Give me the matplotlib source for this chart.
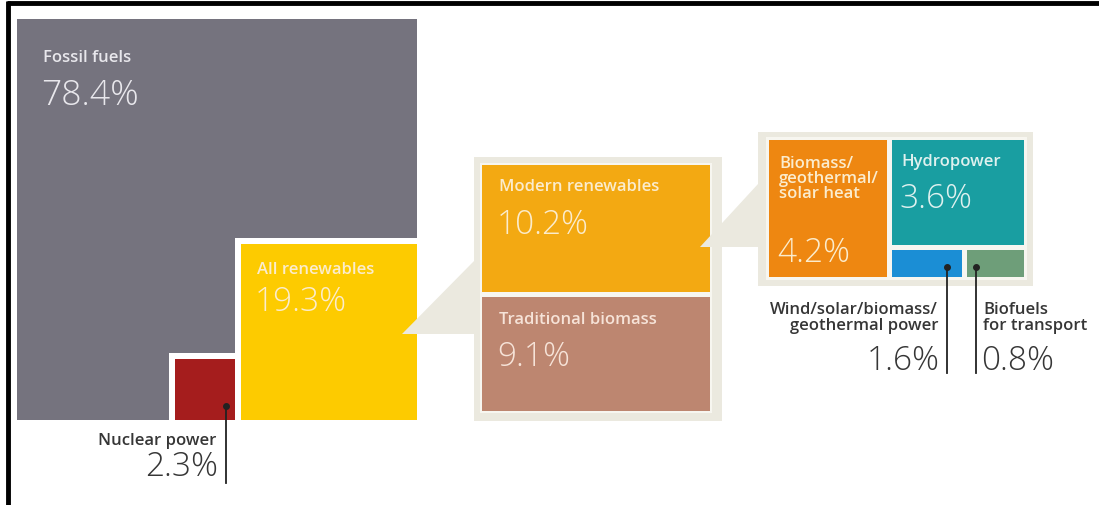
import numpy as np
import matplotlib
matplotlib.use('Agg')
import matplotlib.pyplot as plt
from matplotlib.patches import Rectangle, Polygon

# Share of total final energy consumption (%)
top_labels = ['Fossil fuels', 'All renewables', 'Nuclear power']
top_values = [78.4, 19.3, 2.3]

renew_labels = ['Modern renewables', 'Traditional biomass']
renew_values = [10.2, 9.1]

modern_labels = ['Biomass/\ngeothermal/\nsolar heat', 'Hydropower',
                 'Wind/solar/biomass/\ngeothermal power', 'Biofuels\nfor transport']
modern_values = [4.2, 3.6, 1.6, 0.8]

colors = {
    'fossil': '#75737e', 'renew': '#fdcb00', 'nuclear': '#a51d1d',
    'modern': '#f3a912', 'trad': '#bd8670',
    'heat': '#ee8711', 'hydro': '#199ea1', 'power': '#1b8ed5', 'bio': '#6e9e79',
    'panel': '#ebe9df', 'inner': '#f7f6f0',
}
FONT = 'Open Sans'
NUMFONT = 'Open Sans'
DARK = '#363636'
CREAM = '#fbeccd'
NSIZE = 12
VSIZE = 24

fig = plt.figure(figsize=(10.99, 5.06), dpi=100)
ax = fig.add_axes([0, 0, 1, 1])
ax.set_xlim(0, 1099)
ax.set_ylim(506, 0)
ax.axis('off')


def box(x, y, w, h, color, z=1):
    ax.add_patch(Rectangle((x, y), w, h, facecolor=color, edgecolor='none', zorder=z))


def name(x, y, text, color, ha='left', ls=0.95):
    ax.text(x, y, text, color=color, fontsize=NSIZE, fontweight='semibold', family=FONT,
            ha=ha, va='center', zorder=5, linespacing=ls)


def number(x, y, value, color, size=VSIZE, ha='left'):
    ax.text(x, y, f'{value}%', color=color, fontsize=size, fontweight='light',
            family=NUMFONT, ha=ha, va='center', zorder=5)


def label(x, y, text, value, color, vsize=VSIZE, gap=34):
    name(x, y, text, color)
    number(x - 2, y + gap, value, color, vsize)


# --- left block: areas proportional to share ---
x0, y0, S, pad = 17, 20, 400, 6
box(x0, y0, S, S + 1, colors['fossil'])
side_r = S * np.sqrt(top_values[1] / 100)
side_n = S * np.sqrt(top_values[2] / 100)
rx, ry = x0 + S - side_r, y0 + S + 1 - side_r
box(rx - pad, ry - pad, side_r + pad, side_r + pad, 'white', 2)
box(rx, ry, side_r, side_r, colors['renew'], 3)
nx, ny = rx - pad - side_n, y0 + S + 1 - side_n
box(nx - pad, ny - pad, side_n + pad, side_n + pad, 'white', 2)
box(nx, ny, side_n, side_n, colors['nuclear'], 3)

label(43, 58, top_labels[0], top_values[0], '#e8e7ec', vsize=25.5, gap=38)
label(257, 270, top_labels[1], top_values[1], CREAM, gap=32)

# nuclear callout
dot_x = nx + side_n * 0.85
ax.plot([dot_x, dot_x], [407, 484], color='#222222', lw=1.3, zorder=6)
ax.plot(dot_x, 407, 'o', color='#222222', ms=4, zorder=6)
name(dot_x - 10, 441, top_labels[2], DARK, ha='right')
number(dot_x - 8, 467, top_values[2], DARK, ha='right')

# --- connector wedges ---
ax.add_patch(Polygon([(402, 335), (474, 262), (474, 335)], closed=True,
                     facecolor=colors['panel'], edgecolor='none', zorder=4))
ax.add_patch(Polygon([(700, 248), (758, 185), (758, 248)], closed=True,
                     facecolor=colors['panel'], edgecolor='none', zorder=4))

# --- middle panel: renewables split ---
px0, py0, px1, py1 = 474, 158, 722, 422
box(px0, py0, px1 - px0, py1 - py0, colors['panel'])
ix0, iy0, ix1, iy1 = 482, 166, 710, 412
box(ix0 - 2, iy0 - 2, ix1 - ix0 + 4, iy1 - iy0 + 4, colors['inner'], 1.5)
mgap = 5
h_avail = iy1 - iy0 - mgap
h_mod = h_avail * renew_values[0] / sum(renew_values)
box(ix0, iy0, ix1 - ix0, h_mod, colors['modern'], 2)
box(ix0, iy0 + h_mod + mgap, ix1 - ix0, h_avail - h_mod, colors['trad'], 2)
label(499, 187, renew_labels[0], renew_values[0], CREAM, gap=38)
label(499, iy0 + h_mod + mgap + 22, renew_labels[1], renew_values[1], '#f6e3d8', gap=37)

# --- right panel: modern renewables breakdown ---
box(758, 133, 1033 - 758, 287 - 133, colors['panel'])
box(766, 138, 1027 - 766, 281 - 138, colors['inner'], 1.5)
ax0, ay0, ax1, ay1 = 769, 141, 1024, 278
col_w, row_h, sgap = 118, 105, 5
box(ax0, ay0, col_w, ay1 - ay0, colors['heat'], 2)
hx = ax0 + col_w + sgap
box(hx, ay0, ax1 - hx, row_h, colors['hydro'], 2)
by = ay0 + row_h + sgap
box(hx, by, 70, ay1 - by, colors['power'], 2)
box(hx + 70 + sgap, by, ax1 - hx - 70 - sgap, ay1 - by, colors['bio'], 2)

name(779, 179, modern_labels[0], CREAM, ls=0.9)
number(777, 253, modern_values[0], CREAM)
label(901, 162, modern_labels[1], modern_values[1], '#dff1ef', gap=37)

# small-box callouts
for xd in (947, 976):
    ax.plot([xd, xd], [268, 374], color='#222222', lw=1.3, zorder=6)
    ax.plot(xd, 268, 'o', color='#222222', ms=4, zorder=6)
name(938, 318, modern_labels[2], DARK, ha='right', ls=0.95)
number(940, 361, modern_values[2], DARK, ha='right')
name(983, 318, modern_labels[3], DARK, ls=0.95)
number(981, 361, modern_values[3], DARK)

# frame on top and left
ax.plot([7, 1099], [4, 4], color='black', lw=3.5, solid_capstyle='butt', zorder=10)
ax.plot([7.5, 7.5], [2, 506], color='black', lw=3.5, solid_capstyle='butt', zorder=10)

fig.savefig('out.png', dpi=100)
